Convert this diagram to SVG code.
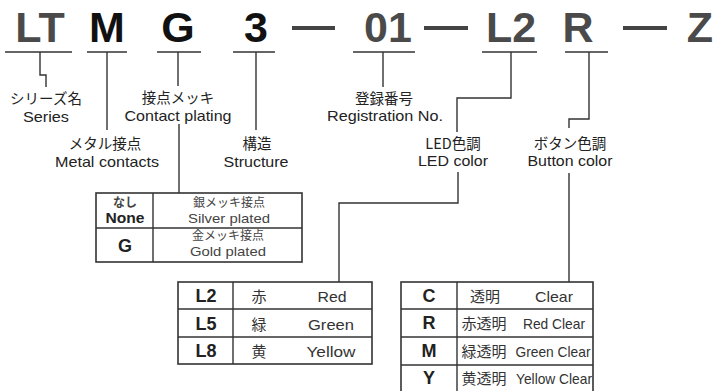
<svg xmlns="http://www.w3.org/2000/svg" width="714" height="391" viewBox="0 0 714 391">
<style>
.code{font-family:"Liberation Sans",Arial,sans-serif;font-weight:bold;font-size:43px;text-anchor:middle}
.dk{fill:#111}
.gy{fill:#4a4a4a}
.ul{stroke:#333;stroke-width:1.5;fill:none}
.ln{stroke:#333;stroke-width:1.4;fill:none}
.jp{font-family:"Noto Sans CJK JP","Noto Sans",sans-serif;font-size:14.5px;fill:#222;text-anchor:middle}
.en{font-family:"Liberation Sans",Arial,sans-serif;font-size:15px;fill:#222;text-anchor:middle}
.tb{fill:#fff;stroke:#333;stroke-width:1.6}
.tl{stroke:#333;stroke-width:1.4}
.key{font-family:"Liberation Sans",Arial,sans-serif;font-weight:bold;font-size:18px;fill:#222;text-anchor:middle}
.tj{font-family:"Noto Sans CJK JP","Noto Sans",sans-serif;font-size:15px;fill:#333;text-anchor:middle}
.te{font-family:"Liberation Sans",Arial,sans-serif;font-size:15px;fill:#333;text-anchor:middle}
.sj{font-family:"Noto Sans CJK JP","Noto Sans",sans-serif;font-size:12px;fill:#444;text-anchor:middle}
.se{font-family:"Liberation Sans",Arial,sans-serif;font-size:13.5px;fill:#444;text-anchor:middle}
</style>

<g id="code">
  <g id="seg-LT"><text class="code gy" x="40" y="42">LT</text><line class="ul" x1="5" y1="52" x2="72" y2="52"/></g>
  <g id="seg-M"><text class="code dk" x="107" y="42">M</text><line class="ul" x1="87" y1="52" x2="127" y2="52"/></g>
  <g id="seg-G"><text class="code dk" x="178" y="42">G</text><line class="ul" x1="157" y1="52" x2="201" y2="52"/></g>
  <g id="seg-3"><text class="code dk" x="256" y="42">3</text><line class="ul" x1="233" y1="52" x2="275" y2="52"/></g>
  <rect x="292" y="26" width="43" height="4" fill="#444"/>
  <g id="seg-01"><text class="code gy" x="388" y="42">01</text><line class="ul" x1="353" y1="52" x2="415" y2="52"/></g>
  <rect x="424" y="26" width="44" height="4" fill="#444"/>
  <g id="seg-L2"><text class="code gy" x="511" y="42">L2</text><line class="ul" x1="482" y1="52" x2="537" y2="52"/></g>
  <g id="seg-R"><text class="code gy" x="578" y="42">R</text><line class="ul" x1="565" y1="52" x2="608" y2="52"/></g>
  <rect x="623" y="26" width="44" height="4" fill="#444"/>
  <g id="seg-Z"><text class="code gy" x="700" y="42">Z</text></g>
</g>

<g id="connectors">
  <polyline class="ln" points="40,52 40,75 46,75 46,87"/>
  <line class="ln" x1="107" y1="52" x2="107" y2="130"/>
  <line class="ln" x1="178" y1="52" x2="178" y2="86"/>
  <line class="ln" x1="179" y1="124" x2="179" y2="193"/>
  <line class="ln" x1="256" y1="52" x2="256" y2="130"/>
  <line class="ln" x1="383" y1="52" x2="383" y2="87"/>
  <polyline class="ln" points="511,52 511,98 457,98 457,132"/>
  <polyline class="ln" points="589,52 589,119 569,119 569,128"/>
  <polyline class="ln" points="458,172 458,203 339,203 339,282"/>
  <line class="ln" x1="569" y1="173" x2="569" y2="282"/>
</g>

<g id="label-series">
  <text class="jp" x="46" y="104">シリーズ名</text>
  <text class="en" x="46" y="122" textLength="46" lengthAdjust="spacingAndGlyphs">Series</text>
</g>
<g id="label-contact-plating">
  <text class="jp" x="178" y="103">接点メッキ</text>
  <text class="en" x="178" y="121" textLength="107" lengthAdjust="spacingAndGlyphs">Contact plating</text>
</g>
<g id="label-metal">
  <text class="jp" x="105" y="149">メタル接点</text>
  <text class="en" x="107" y="167" textLength="104" lengthAdjust="spacingAndGlyphs">Metal contacts</text>
</g>
<g id="label-structure">
  <text class="jp" x="257" y="149">構造</text>
  <text class="en" x="256" y="167" textLength="65" lengthAdjust="spacingAndGlyphs">Structure</text>
</g>
<g id="label-registration">
  <text class="jp" x="384" y="104">登録番号</text>
  <text class="en" x="385" y="121" textLength="116" lengthAdjust="spacingAndGlyphs">Registration No.</text>
</g>
<g id="label-led">
  <text class="jp" x="453" y="149">LED色調</text>
  <text class="en" x="453" y="166" textLength="70" lengthAdjust="spacingAndGlyphs">LED color</text>
</g>
<g id="label-button">
  <text class="jp" x="570" y="149">ボタン色調</text>
  <text class="en" x="570" y="166" textLength="85" lengthAdjust="spacingAndGlyphs">Button color</text>
</g>

<g id="table-contact">
  <rect class="tb" x="96" y="193" width="206" height="69"/>
  <line class="tl" x1="96" y1="228" x2="302" y2="228"/>
  <line class="tl" x1="153" y1="193" x2="153" y2="262"/>
  <text class="sj" x="125" y="207" font-weight="bold">なし</text>
  <text class="key" x="125" y="223" style="font-size:14px" textLength="39" lengthAdjust="spacingAndGlyphs">None</text>
  <text class="sj" x="229" y="207">銀メッキ接点</text>
  <text class="se" x="229" y="223" textLength="82" lengthAdjust="spacingAndGlyphs">Silver plated</text>
  <text class="key" x="125" y="252">G</text>
  <text class="sj" x="228" y="240">金メッキ接点</text>
  <text class="se" x="228" y="256" textLength="76" lengthAdjust="spacingAndGlyphs">Gold plated</text>
</g>

<g id="table-led">
  <rect class="tb" x="178" y="282" width="194" height="82"/>
  <line class="tl" x1="178" y1="309" x2="372" y2="309"/>
  <line class="tl" x1="178" y1="337" x2="372" y2="337"/>
  <line class="tl" x1="233" y1="282" x2="233" y2="364"/>
  <text class="key" x="206" y="302">L2</text>
  <text class="tj" x="259" y="302">赤</text>
  <text class="te" x="332" y="302" textLength="29" lengthAdjust="spacingAndGlyphs">Red</text>
  <text class="key" x="206" y="330">L5</text>
  <text class="tj" x="259" y="330">緑</text>
  <text class="te" x="331" y="330" textLength="46" lengthAdjust="spacingAndGlyphs">Green</text>
  <text class="key" x="206" y="357">L8</text>
  <text class="tj" x="259" y="357">黄</text>
  <text class="te" x="331" y="357" textLength="49" lengthAdjust="spacingAndGlyphs">Yellow</text>
</g>

<g id="table-button">
  <rect class="tb" x="401" y="282" width="192" height="110"/>
  <line class="tl" x1="401" y1="309" x2="593" y2="309"/>
  <line class="tl" x1="401" y1="337" x2="593" y2="337"/>
  <line class="tl" x1="401" y1="365" x2="593" y2="365"/>
  <line class="tl" x1="457" y1="282" x2="457" y2="391"/>
  <text class="key" x="429" y="302">C</text>
  <text class="tj" x="485" y="302">透明</text>
  <text class="te" x="554" y="302" textLength="38" lengthAdjust="spacingAndGlyphs">Clear</text>
  <text class="key" x="429" y="329">R</text>
  <text class="tj" x="484" y="329">赤透明</text>
  <text class="te" x="554" y="329" textLength="62" lengthAdjust="spacingAndGlyphs">Red Clear</text>
  <text class="key" x="429" y="357">M</text>
  <text class="tj" x="484" y="357">緑透明</text>
  <text class="te" x="553" y="357" textLength="75" lengthAdjust="spacingAndGlyphs">Green Clear</text>
  <text class="key" x="429" y="384">Y</text>
  <text class="tj" x="484" y="384">黄透明</text>
  <text class="te" x="554" y="384" textLength="76" lengthAdjust="spacingAndGlyphs">Yellow Clear</text>
</g>
</svg>
